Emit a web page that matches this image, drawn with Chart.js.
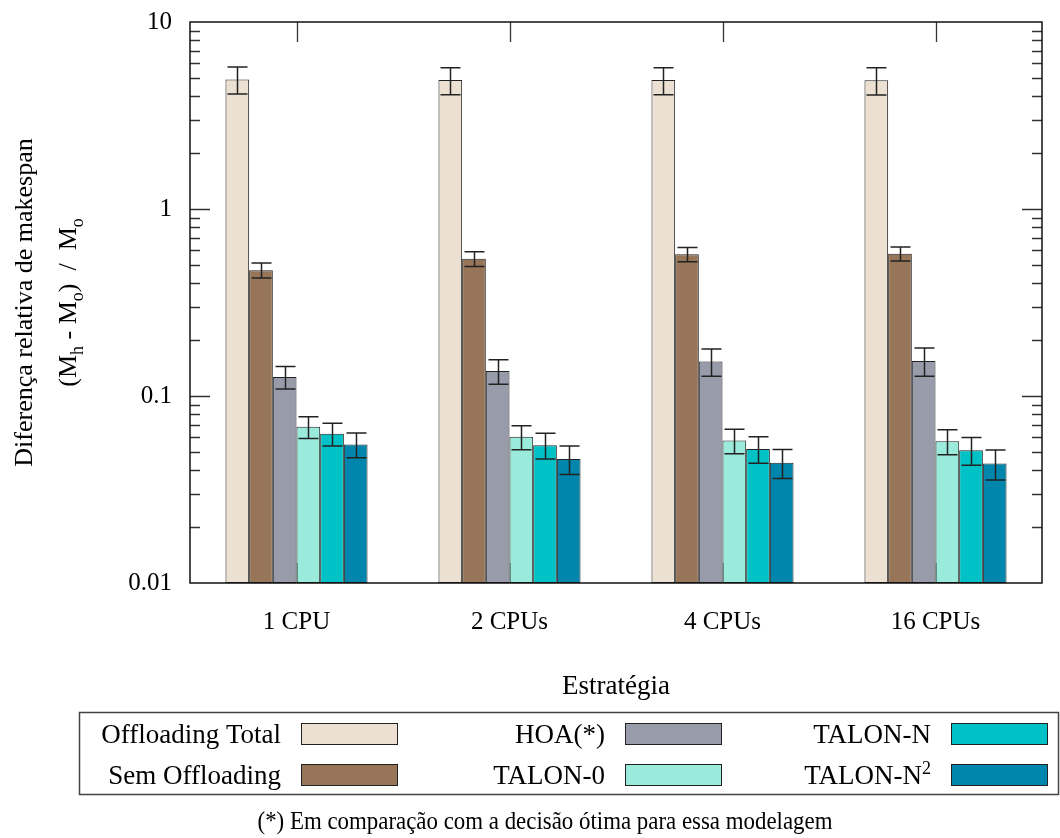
<!DOCTYPE html>
<html>
<head>
<meta charset="utf-8">
<script src="https://cdn.jsdelivr.net/npm/chart.js@4.4.1/dist/chart.umd.min.js"></script>
<style>
  body { margin: 0; background: #fff; }
  #wrap { width: 1060px; height: 838px; }
</style>
</head>
<body>
<div id="wrap"><canvas id="chart" width="1060" height="838"></canvas></div>
<script>
const categories = ['1 CPU', '2 CPUs', '4 CPUs', '16 CPUs'];
const seriesNames = ['Offloading Total', 'Sem Offloading', 'HOA(*)', 'TALON-0', 'TALON-N', 'TALON-N2'];
const seriesColors = ['#ebe0d1', '#967559', '#989baa', '#9aebdc', '#00c1c5', '#0086ad'];

// mean values
const offloadingTotal = [4.93, 4.89, 4.89, 4.88];
const semOffloading = [0.471, 0.542, 0.572, 0.577];
const hoa = [0.1265, 0.136, 0.153, 0.154];
const talon0 = [0.0684, 0.0605, 0.0578, 0.0572];
const talonN = [0.0628, 0.0546, 0.0521, 0.0513];
const talonN2 = [0.0551, 0.046, 0.044, 0.0435];

// +/- error half widths
const offloadingTotalErr = [0.81, 0.81, 0.81, 0.81];
const semOffloadingErr = [0.044, 0.049, 0.05, 0.05];
const hoaErr = [0.0175, 0.0205, 0.0255, 0.0265];
const talon0Err = [0.0091, 0.0089, 0.0087, 0.0087];
const talonNErr = [0.0088, 0.0086, 0.0084, 0.0087];
const talonN2Err = [0.0083, 0.008, 0.0078, 0.0079];

const yTicks = [0.01, 0.1, 1, 10];

const values = [offloadingTotal, semOffloading, hoa, talon0, talonN, talonN2];
const errors = [offloadingTotalErr, semOffloadingErr, hoaErr, talon0Err, talonNErr, talonN2Err];

const FONT = "'Liberation Serif', 'Times New Roman', serif";
Chart.defaults.font.family = FONT;
Chart.defaults.font.size = 25;
Chart.defaults.color = '#000';

// inward gnuplot-like ticks, drawn under the bars
const ticksPlugin = {
    id: 'inTicks',
    beforeDatasetsDraw(chart) {
        const { ctx, chartArea: a, scales: { x, y } } = chart;
        ctx.save();
        ctx.strokeStyle = '#333';
        ctx.lineWidth = 1.3;
        ctx.beginPath();
        for (let d = 0; d < yTicks.length - 1; d++) {
            for (let m = 1; m < 10; m++) {
                if (m === 1 && d === 0) continue;
                const py = Math.round(y.getPixelForValue(yTicks[d] * m)) + 0.5;
                const len = m === 1 ? 20 : 10;
                ctx.moveTo(a.left, py); ctx.lineTo(a.left + len, py);
                ctx.moveTo(a.right, py); ctx.lineTo(a.right - len, py);
            }
        }
        categories.forEach((c, i) => {
            const px = Math.round(x.getPixelForValue(i)) + 0.5;
            ctx.moveTo(px, a.top); ctx.lineTo(px, a.top + 20);
            ctx.moveTo(px, a.bottom); ctx.lineTo(px, a.bottom - 20);
        });
        ctx.stroke();
        ctx.restore();
    }
};

const errorBarPlugin = {
    id: 'errorBars',
    afterDatasetsDraw(chart) {
        const { ctx, scales: { y } } = chart;
        ctx.save();
        ctx.strokeStyle = '#222';
        ctx.lineWidth = 1.5;
        chart.data.datasets.forEach((ds, i) => {
            chart.getDatasetMeta(i).data.forEach((bar, j) => {
                const v = values[i][j], e = errors[i][j];
                const top = y.getPixelForValue(v + e);
                const bot = y.getPixelForValue(v - e);
                const cx = Math.round(bar.x) + 0.5;
                ctx.beginPath();
                ctx.moveTo(cx, top); ctx.lineTo(cx, bot);
                ctx.moveTo(cx - 10, top); ctx.lineTo(cx + 10, top);
                ctx.moveTo(cx - 10, bot); ctx.lineTo(cx + 10, bot);
                ctx.stroke();
            });
        });
        ctx.restore();
    }
};

function measureParts(ctx, parts, size) {
    const small = Math.round(size * 0.68);
    let total = 0;
    parts.forEach(([t, m]) => {
        ctx.font = (m ? small : size) + 'px ' + FONT;
        total += ctx.measureText(t).width;
    });
    return total;
}

// draws text pieces (normal / sub / sup) centred at cx on baseline cy
function drawSubText(ctx, parts, cx, cy, size) {
    const small = Math.round(size * 0.68);
    let px = cx - measureParts(ctx, parts, size) / 2;
    parts.forEach(([t, m]) => {
        ctx.font = (m ? small : size) + 'px ' + FONT;
        const dy = m === 'sub' ? size * 0.25 : m === 'sup' ? -size * 0.38 : 0;
        ctx.fillText(t, px, cy + dy);
        px += ctx.measureText(t).width;
    });
}

const decorPlugin = {
    id: 'decor',
    afterDraw(chart) {
        const { ctx, chartArea: a } = chart;
        ctx.save();
        // frame
        ctx.strokeStyle = '#111';
        ctx.lineWidth = 1.5;
        ctx.strokeRect(a.left, a.top, a.right - a.left, a.bottom - a.top);

        ctx.fillStyle = '#000';
        ctx.textBaseline = 'alphabetic';
        ctx.textAlign = 'left';

        // y title, two rotated lines
        const midY = (a.top + a.bottom) / 2;
        ctx.save();
        ctx.translate(32, midY);
        ctx.rotate(-Math.PI / 2);
        drawSubText(ctx, [['Diferença relativa de makespan', '']], 0, 0, 26);
        ctx.restore();
        ctx.save();
        ctx.translate(76, midY);
        ctx.rotate(-Math.PI / 2);
        drawSubText(ctx, [['(M', ''], ['h', 'sub'], [' - M', ''], ['o', 'sub'], [')  /  M', ''], ['o', 'sub']], 0, 0, 26);
        ctx.restore();

        // x title
        drawSubText(ctx, [['Estratégia', '']], (a.left + a.right) / 2, 694, 27);

        // legend box
        ctx.strokeStyle = '#444';
        ctx.lineWidth = 1.5;
        ctx.strokeRect(79.5, 712.5, 979, 82);
        const colX = [301, 625, 951];
        const rowY = [723, 764];
        ctx.lineWidth = 1;
        ctx.strokeStyle = '#222';
        chart.data.datasets.forEach((ds, i) => {
            const col = Math.floor(i / 2), row = i % 2;
            const sx = colX[col], sy = rowY[row];
            ctx.fillStyle = ds.backgroundColor;
            ctx.fillRect(sx, sy, 96, 21);
            ctx.strokeRect(sx + 0.5, sy + 0.5, 96, 21);
            ctx.fillStyle = '#000';
            const parts = ds.label === 'TALON-N2' ? [['TALON-N', ''], ['2', 'sup']] : [[ds.label, '']];
            const w = measureParts(ctx, parts, 27);
            drawSubText(ctx, parts, sx - 20 - w / 2, sy + 20, 27);
        });

        // footnote (slightly condensed like the original)
        ctx.save();
        ctx.translate(545, 829);
        ctx.scale(0.88, 1);
        drawSubText(ctx, [['(*) Em comparação com a decisão ótima para essa modelagem', '']], 0, 0, 26);
        ctx.restore();
        ctx.restore();
    }
};

new Chart(document.getElementById('chart'), {
    type: 'bar',
    data: {
        labels: categories,
        datasets: seriesNames.map((name, i) => ({
            label: name,
            data: values[i],
            backgroundColor: seriesColors[i],
            borderColor: '#222',
            borderWidth: 1,
            borderSkipped: false,
            categoryPercentage: 0.667,
            barPercentage: 1.0
        }))
    },
    options: {
        responsive: false,
        animation: false,
        devicePixelRatio: 1,
        layout: { padding: { left: 0, right: 18, top: 22, bottom: 0 } },
        plugins: {
            legend: { display: false },
            title: { display: false },
            tooltip: { enabled: false }
        },
        scales: {
            x: {
                grid: { display: false, drawTicks: false },
                border: { display: false },
                ticks: { padding: 24, font: { size: 25 } },
                afterFit(scale) {
                    scale.height = 255;
                    scale.paddingLeft = 0;
                    scale.paddingRight = 0;
                }
            },
            y: {
                type: 'logarithmic',
                min: 0.01,
                max: 10,
                grid: { display: false, drawTicks: false },
                border: { display: false },
                afterBuildTicks(scale) { scale.ticks = yTicks.map(v => ({ value: v })); },
                ticks: {
                    padding: 18,
                    font: { size: 25 },
                    callback: v => String(v)
                },
                afterFit(scale) {
                    scale.width = 190;
                    scale.paddingTop = 0;
                    scale.paddingBottom = 0;
                }
            }
        }
    },
    plugins: [ticksPlugin, errorBarPlugin, decorPlugin]
});
</script>
</body>
</html>
